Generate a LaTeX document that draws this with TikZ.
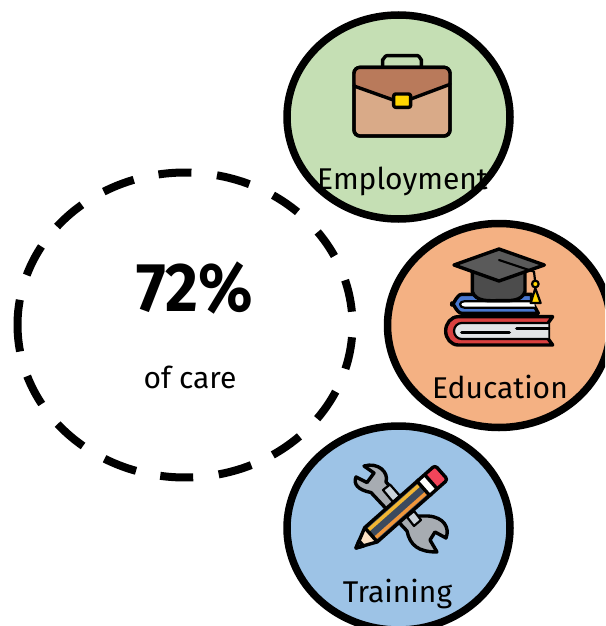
\documentclass[tikz,border=0pt]{standalone}
\usepackage{fontspec}
\setmainfont{Fira Sans}
\definecolor{cgreen}{HTML}{C5DFB4}
\definecolor{corange}{HTML}{F4B183}
\definecolor{cblue}{HTML}{9DC3E6}
\definecolor{flap}{HTML}{B97A5B}
\definecolor{case}{HTML}{D9AA88}
\definecolor{gold}{HTML}{FFD500}
\definecolor{capgrey}{HTML}{5A5A5A}
\definecolor{bookblue}{HTML}{4A78D0}
\definecolor{bookred}{HTML}{D9403F}
\definecolor{pagegrey}{HTML}{E2E4E6}
\definecolor{steel}{HTML}{A7ACB2}
\definecolor{steellight}{HTML}{C9D2DA}
\definecolor{pencildark}{HTML}{3B4A5E}
\definecolor{pencilyellow}{HTML}{F2B632}
\definecolor{pencilorange}{HTML}{F0963A}
\definecolor{eraser}{HTML}{F2455A}
\definecolor{wood}{HTML}{FBE0C4}
\begin{document}
\begin{tikzpicture}[x=1pt,y=-1pt,
  disc/.style={draw=black,line width=7.5pt},
  dashseg/.style={draw=black,line width=8pt},
  caption/.style={font=\fontsize{30}{33}\selectfont,text=black,inner sep=0pt,anchor=base},
  icon/.style={draw=black,line width=3.4pt,line join=round,line cap=round},
  thinline/.style={draw=black,line width=2.2pt,line join=round,line cap=round}]
\useasboundingbox (0,0) rectangle (605,626);
\clip (0,0) rectangle (605,626);
\fill[white] (0,0) rectangle (605,626);
% discs
\draw[disc,fill=cgreen] (398.5,117) ellipse [x radius=111.5,y radius=102];
\draw[disc,fill=corange] (499,325.5) ellipse [x radius=111.5,y radius=102];
\draw[disc,fill=cblue] (398.5,528) ellipse [x radius=111.5,y radius=102];
% dashed ring
\foreach \a/\b in {99.1/87.8,79/67.4,58.3/47.8,37.6/26.9,17.1/5,-4.6/-16.7,-25.9/-37.9,-46.9/-58.4,-66.7/-78.4,-87.2/-98.5,-107/-118.7,-127.5/-139.5,-148.8/-160.4,-170/-189.5,-199.1/-211,-220.2/-232,-241/-252.2}
  \draw[dashseg] plot[domain=\a:\b,samples=10,smooth] ({185+167.5*cos(\x)},{325-152.5*sin(\x)});
% briefcase
\begin{scope}[shift={(330,40)},scale=1/3]
  \draw[icon] (158,78) -- (158,58) to[out=-90,in=180] (170,47) -- (263,47) to[out=0,in=-90] (274,58) -- (274,78);
  \draw[icon,fill=case,rounded corners=6pt] (72,82) rectangle (360,288);
  \fill[flap,rounded corners=5pt] (74,84) -- (358,84) -- (358,133) -- (245,176) -- (190,176) -- (74,138) -- cycle;
  \draw[icon] (72,138) -- (190,180);
  \draw[icon] (245,176) -- (360,133);
  \draw[icon,rounded corners=6pt] (72,82) rectangle (360,288);
  \draw[icon,fill=gold,rounded corners=2pt] (191,162) rectangle (242,202);
\end{scope}
% books and cap
\begin{scope}[shift={(430,235)},scale=1/3]
  \draw[icon,fill=bookblue] (325,235) -- (95,235) to[out=180,in=90] (65,207) to[out=-90,in=180] (95,178) -- (305,178) -- (305,198) -- (325,235);
  \draw[thinline,fill=white] (312,199) -- (103,199) to[out=180,in=90] (90,208) to[out=-90,in=180] (103,218) -- (315,218);
  \draw[icon,fill=bookred] (368,245) -- (85,245) to[out=180,in=90] (47,288) to[out=-90,in=180] (85,330) -- (368,330) -- (355,312) -- (355,263) -- cycle;
  \draw[thinline,fill=pagegrey] (355,264) -- (95,264) to[out=180,in=90] (72,288) to[out=-90,in=180] (95,312) -- (355,312);
  \draw[icon] (95,293) -- (238,293);
  \draw[icon] (260,280) -- (355,280);
  \draw[icon,fill=capgrey!85!black] (127,108) -- (127,170) to[out=-70,in=180] (207,197) to[out=0,in=-110] (285,170) -- (285,108) -- cycle;
  \draw[icon,fill=capgrey] (72,90) -- (207,42) -- (343,90) -- (207,138) -- cycle;
  \draw[thinline] (207,75) -- (312,110) -- (316,145);
  \draw[thinline,fill=gold] (316,160) -- (332,204) -- (302,204) -- cycle;
  \draw[thinline,fill=gold] (316,147) circle [radius=10];
\end{scope}
% wrench
\draw[icon,fill=steel] (364,466) -- (374,473) -- (367,482.5) -- (356,477)
  .. controls (353,484) and (358,490) .. (371,492.5)
  -- (407,531) .. controls (410,545) and (418,552) .. (437,552)
  -- (430,540) -- (435,532) -- (446,538)
  .. controls (450,528) and (444,517) .. (428,516) -- (417,516)
  -- (386,482) .. controls (389,472) and (378,462) .. (364,466) -- cycle;
\draw[thinline,fill=steellight] (383,490) -- (390,484.5) -- (400,496) -- (393,502) -- cycle;
\draw[thinline,fill=steellight] (407,517) -- (414,511) -- (421,520) -- (414,526) -- cycle;
% pencil
\begin{scope}[shift={(356,548)},rotate=41.5]
  \draw[icon,fill=pencildark] (20,-9.5) rectangle (92,9.5);
  \fill[pencilyellow] (21,-7) rectangle (91,-3.5);
  \fill[pencilorange] (21,3.5) rectangle (91,7);
  \draw[icon,fill=wood] (20,-9.5) -- (0,0) -- (20,9.5) -- cycle;
  \draw[icon,fill=pencildark] (7,-3.5) -- (0,0) -- (7,3.5) -- cycle;
  \draw[icon,fill=eraser,rounded corners=3pt] (98,-9.5) -- (114,-9.5) -- (114,9.5) -- (98,9.5) -- cycle;
  \draw[icon,fill=white] (90,-9.5) rectangle (100,9.5);
\end{scope}
% texts
\node[caption] (emp) at (402.5,189) {Employment};
\node[caption] (edu) at (500,398.5) {Education};
\node[caption] (tra) at (397.5,602) {Training};
\node[caption] (care) at (190,388) {of care};
\node[caption,font=\bfseries\fontsize{69}{72}\selectfont] (pct) at (194.5,311) {\scalebox{.92}[1]{72\%}};
\end{tikzpicture}
\end{document}
